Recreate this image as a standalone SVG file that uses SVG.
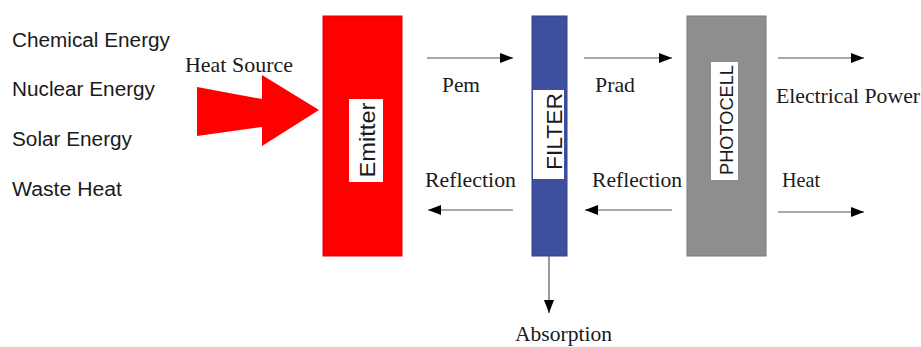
<svg xmlns="http://www.w3.org/2000/svg" width="921" height="347" viewBox="0 0 921 347">
<defs>
<style>
.sans{font-family:"Liberation Sans",Arial,sans-serif;fill:#1a1a1a}
.serif{font-family:"Liberation Serif","Times New Roman",serif;fill:#1a1a1a;font-size:21px}
.conn{stroke:#555;stroke-width:1.2;fill:none;marker-end:url(#ah)}
.lbl{fill:#fff}
</style>
<marker id="ah" markerUnits="userSpaceOnUse" markerWidth="14" markerHeight="10" refX="13" refY="5" orient="auto">
<path d="M0,0 L13,5 L0,10 Z" fill="#000"/>
</marker>
</defs>
<rect width="921" height="347" fill="#fff"/>
<g id="sources">
<text class="sans" x="12" y="47" font-size="20" textLength="158" lengthAdjust="spacingAndGlyphs">Chemical Energy</text>
<text class="sans" x="12" y="96" font-size="20" textLength="143" lengthAdjust="spacingAndGlyphs">Nuclear Energy</text>
<text class="sans" x="12" y="146" font-size="20" textLength="120" lengthAdjust="spacingAndGlyphs">Solar Energy</text>
<text class="sans" x="12" y="196" font-size="20" textLength="110" lengthAdjust="spacingAndGlyphs">Waste Heat</text>
</g>
<g id="heat-source">
<polygon points="197,87 262,99 262,75 319,110 262,146 262,127 197,136" fill="#f00"/>
<text class="serif" x="185" y="72" textLength="108" lengthAdjust="spacingAndGlyphs">Heat Source</text>
</g>
<g id="emitter">
<rect x="323" y="16" width="79" height="240" fill="#f00" stroke="#d00" stroke-width="1"/>
<rect class="lbl" x="349" y="99" width="34" height="83"/>
<text class="sans" transform="translate(375,140) rotate(-90)" text-anchor="middle" font-size="22" textLength="75" lengthAdjust="spacingAndGlyphs">Emitter</text>
</g>
<g id="filter">
<rect x="532" y="16" width="35" height="240" fill="#3f4fa0" stroke="#34428a" stroke-width="1"/>
<rect class="lbl" x="533" y="90" width="31" height="89"/>
<text class="sans" transform="translate(562,131.5) rotate(-90)" text-anchor="middle" font-size="22" textLength="77" lengthAdjust="spacingAndGlyphs">FILTER</text>
</g>
<g id="photocell">
<rect x="687" y="16" width="79" height="240" fill="#8e8e90" stroke="#7a7a7c" stroke-width="1"/>
<rect class="lbl" x="711" y="62" width="27" height="118"/>
<text class="sans" transform="translate(733,120) rotate(-90)" text-anchor="middle" font-size="19" textLength="110" lengthAdjust="spacingAndGlyphs">PHOTOCELL</text>
</g>
<g id="connectors">
<line class="conn" x1="427" y1="58" x2="513" y2="58"/>
<line class="conn" x1="584" y1="58" x2="672" y2="58"/>
<line class="conn" x1="778" y1="58" x2="864" y2="58"/>
<line class="conn" x1="513" y1="210" x2="428" y2="210"/>
<line class="conn" x1="672" y1="210" x2="585" y2="210"/>
<line class="conn" x1="778" y1="212" x2="864" y2="212"/>
<line class="conn" x1="549" y1="256" x2="549" y2="313"/>
</g>
<g id="labels">
<text class="serif" x="442" y="92" textLength="38" lengthAdjust="spacingAndGlyphs">Pem</text>
<text class="serif" x="595" y="92" textLength="40" lengthAdjust="spacingAndGlyphs">Prad</text>
<text class="serif" x="776" y="103" textLength="144" lengthAdjust="spacingAndGlyphs">Electrical Power</text>
<text class="serif" x="425" y="187" textLength="91" lengthAdjust="spacingAndGlyphs">Reflection</text>
<text class="serif" x="592" y="187" textLength="90" lengthAdjust="spacingAndGlyphs">Reflection</text>
<text class="serif" x="782" y="187" textLength="38" lengthAdjust="spacingAndGlyphs">Heat</text>
<text class="serif" x="515" y="341" textLength="97" lengthAdjust="spacingAndGlyphs">Absorption</text>
</g>
</svg>
